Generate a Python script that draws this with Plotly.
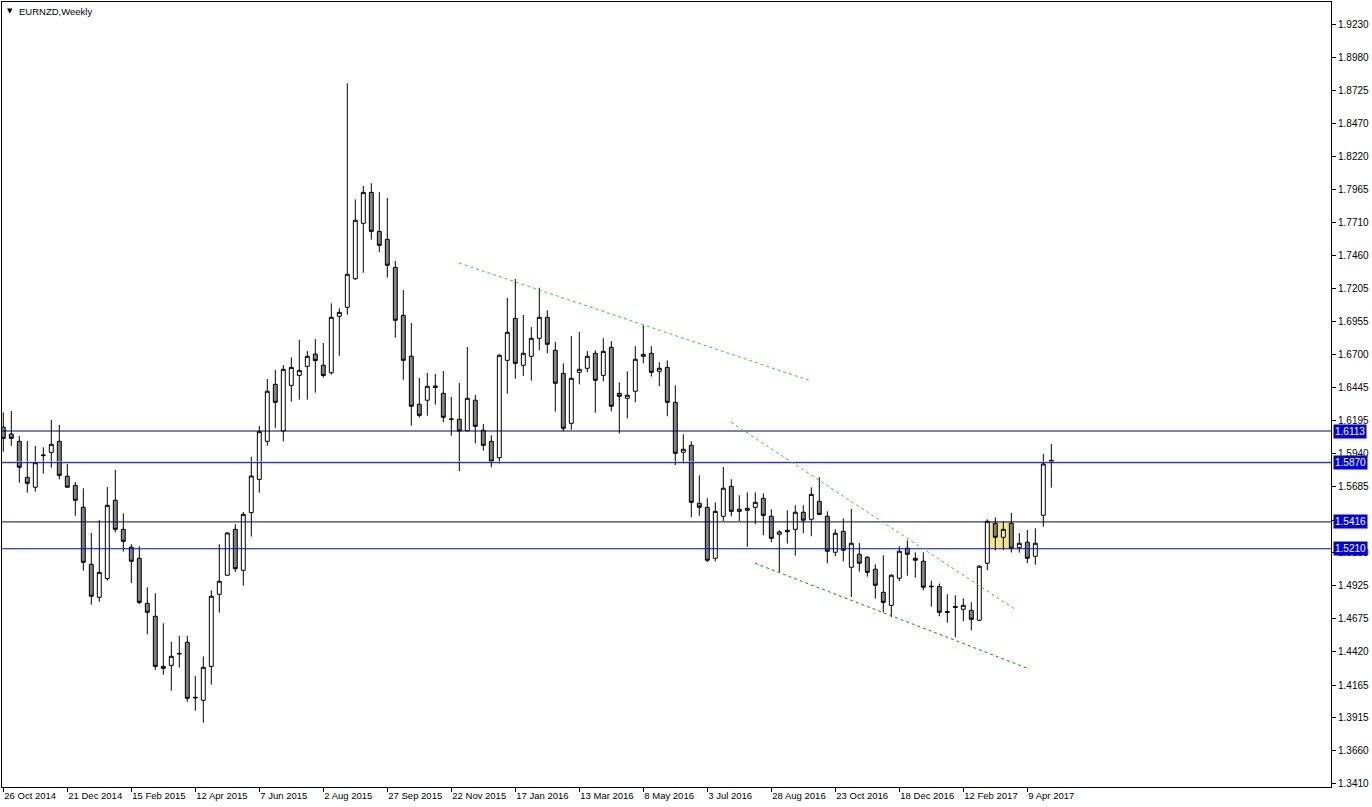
import plotly.graph_objects as go

# ---- weekly OHLC data (EURNZD) ----
opens = [1.6142, 1.6090, 1.6034, 1.5758, 1.5682, 1.5924, 1.5949, 1.6034, 1.5766, 1.5696,
         1.5528, 1.5091, 1.4838, 1.4981, 1.5582, 1.5359, 1.5222, 1.5137, 1.4792, 1.4692,
         1.4308, 1.4316, 1.4403, 1.4493, 1.4066, 1.4048, 1.4308, 1.4861, 1.5007, 1.5359,
         1.5045, 1.5487, 1.5742, 1.6034, 1.6471, 1.6113, 1.6463, 1.6540, 1.6609, 1.6703,
         1.6617, 1.6560, 1.6993, 1.7062, 1.7281, 1.7706, 1.7943, 1.7644, 1.7583, 1.7368,
         1.7000, 1.6686, 1.6318, 1.6349, 1.6458, 1.6402, 1.6201, 1.6203, 1.6115, 1.6349,
         1.6119, 1.6034, 1.5908, 1.6655, 1.6977, 1.6617, 1.6686, 1.6824, 1.6985, 1.6732,
         1.6555, 1.6172, 1.6563, 1.6594, 1.6709, 1.6540, 1.6755, 1.6402, 1.6364, 1.6418,
         1.6686, 1.6709, 1.6571, 1.6601, 1.6333, 1.5950, 1.6003, 1.5559, 1.5528, 1.5137,
         1.5459, 1.5689, 1.5497, 1.5505, 1.5528, 1.5597, 1.5459, 1.5321, 1.5352, 1.5359,
         1.5490, 1.5436, 1.5574, 1.5459, 1.5183, 1.5344, 1.5068, 1.5168, 1.5145, 1.5053,
         1.4876, 1.4776, 1.4984, 1.5214, 1.5137, 1.5114, 1.4918, 1.4920, 1.4728, 1.4767,
         1.4746, 1.4738, 1.4662, 1.5099, 1.5405, 1.5298, 1.5405, 1.5218, 1.5260, 1.5152,
         1.5467, 1.5888]
highs = [1.6256, 1.6266, 1.6075, 1.6036, 1.5998, 1.5988, 1.6197, 1.6159, 1.5860, 1.5722,
         1.5674, 1.5331, 1.5429, 1.5684, 1.5814, 1.5482, 1.5245, 1.5229, 1.4915, 1.4869,
         1.4639, 1.4496, 1.4541, 1.4541, 1.4235, 1.4385, 1.4892, 1.5245, 1.5336, 1.5398,
         1.5492, 1.5916, 1.6152, 1.6512, 1.6581, 1.6619, 1.6678, 1.6811, 1.6727, 1.6818,
         1.6788, 1.7092, 1.7054, 1.8780, 1.7889, 1.7992, 1.8013, 1.7945, 1.7900, 1.7417,
         1.7194, 1.6941, 1.6520, 1.6558, 1.6550, 1.6573, 1.6374, 1.6481, 1.6757, 1.6389,
         1.6167, 1.6080, 1.6703, 1.7133, 1.7279, 1.7003, 1.6911, 1.7212, 1.7039, 1.6796,
         1.6632, 1.6842, 1.6872, 1.6727, 1.6732, 1.6824, 1.6803, 1.6487, 1.6571, 1.6763,
         1.6924, 1.6763, 1.6640, 1.6655, 1.6463, 1.6088, 1.6034, 1.5773, 1.5597, 1.5566,
         1.5837, 1.5743, 1.5620, 1.5643, 1.5643, 1.5635, 1.5513, 1.5352, 1.5505, 1.5543,
         1.5543, 1.5681, 1.5760, 1.5497, 1.5359, 1.5443, 1.5515, 1.5254, 1.5155, 1.5091,
         1.5160, 1.5014, 1.5229, 1.5275, 1.5183, 1.5183, 1.4966, 1.4943, 1.4861, 1.4853,
         1.4830, 1.4800, 1.5083, 1.5436, 1.5451, 1.5419, 1.5484, 1.5331, 1.5354, 1.5367,
         1.5937, 1.6013]
lows = [1.5954, 1.6000, 1.5716, 1.5640, 1.5648, 1.5786, 1.5832, 1.5742, 1.5680, 1.5463,
        1.5042, 1.4781, 1.4804, 1.4966, 1.5336, 1.5188, 1.4946, 1.4784, 1.4554, 1.4282,
        1.4244, 1.4122, 1.4299, 1.4037, 1.3968, 1.3876, 1.4168, 1.4720, 1.5003, 1.5032,
        1.4927, 1.5303, 1.5640, 1.6000, 1.6138, 1.6034, 1.6338, 1.6353, 1.6353, 1.6407,
        1.6522, 1.6545, 1.6690, 1.7005, 1.7271, 1.7327, 1.7580, 1.7486, 1.7289, 1.6828,
        1.6506, 1.6154, 1.6215, 1.6230, 1.6315, 1.6180, 1.6077, 1.5806, 1.6111, 1.6019,
        1.5962, 1.5835, 1.5865, 1.6399, 1.6514, 1.6535, 1.6499, 1.6732, 1.6709, 1.6261,
        1.6111, 1.6123, 1.6471, 1.6563, 1.6253, 1.6494, 1.6264, 1.6095, 1.6210, 1.6333,
        1.6632, 1.6530, 1.6456, 1.6226, 1.5852, 1.5865, 1.5451, 1.5463, 1.5106, 1.5114,
        1.5421, 1.5459, 1.5421, 1.5226, 1.5398, 1.5313, 1.5260, 1.5032, 1.5249, 1.5157,
        1.5329, 1.5306, 1.5467, 1.5099, 1.5152, 1.5114, 1.4840, 1.5034, 1.4996, 1.4827,
        1.4723, 1.4685, 1.4961, 1.5003, 1.4988, 1.4892, 1.4766, 1.4692, 1.4643, 1.4531,
        1.4654, 1.4585, 1.4654, 1.5045, 1.5197, 1.5201, 1.5181, 1.5180, 1.5099, 1.5088,
        1.5379, 1.5678]
closes = [1.6057, 1.6057, 1.5835, 1.5712, 1.5870, 1.5928, 1.6011, 1.5773, 1.5682, 1.5582,
          1.5106, 1.4846, 1.5029, 1.5543, 1.5359, 1.5267, 1.5114, 1.4799, 1.4723, 1.4308,
          1.4293, 1.4385, 1.4407, 1.4063, 1.4070, 1.4301, 1.4846, 1.4961, 1.5331, 1.5057,
          1.5474, 1.5768, 1.6108, 1.6418, 1.6333, 1.6586, 1.6601, 1.6578, 1.6686, 1.6653,
          1.6539, 1.6985, 1.7023, 1.7315, 1.7729, 1.7943, 1.7644, 1.7537, 1.7384, 1.6962,
          1.6655, 1.6303, 1.6233, 1.6456, 1.6448, 1.6218, 1.6205, 1.6113, 1.6364, 1.6149,
          1.6003, 1.5881, 1.6694, 1.6870, 1.6632, 1.6709, 1.6824, 1.6985, 1.6778, 1.6479,
          1.6134, 1.6517, 1.6586, 1.6686, 1.6502, 1.6724, 1.6303, 1.6379, 1.6387, 1.6663,
          1.6701, 1.6563, 1.6594, 1.6333, 1.5942, 1.5973, 1.5566, 1.5528, 1.5122, 1.5497,
          1.5674, 1.5497, 1.5513, 1.5520, 1.5566, 1.5466, 1.5290, 1.5339, 1.5341, 1.5490,
          1.5429, 1.5627, 1.5474, 1.5191, 1.5329, 1.5199, 1.5252, 1.5099, 1.5029, 1.4930,
          1.4799, 1.5007, 1.5191, 1.5168, 1.5122, 1.4915, 1.4922, 1.4723, 1.4722, 1.4761,
          1.4776, 1.4669, 1.5076, 1.5421, 1.5298, 1.5359, 1.5214, 1.5252, 1.5137, 1.5252,
          1.5860, 1.5876]
bar_index = list(range(len(opens)))

# ---- axis labels ----
date_tick_index = [0, 8, 16, 24, 32, 40, 48, 56, 64, 72, 80, 88, 96, 104, 112, 120, 128]
date_tick_labels = ["26 Oct 2014", "21 Dec 2014", "15 Feb 2015", "12 Apr 2015", "7 Jun 2015",
                    "2 Aug 2015", "27 Sep 2015", "22 Nov 2015", "17 Jan 2016", "13 Mar 2016",
                    "8 May 2016", "3 Jul 2016", "28 Aug 2016", "23 Oct 2016", "18 Dec 2016",
                    "12 Feb 2017", "9 Apr 2017"]
price_ticks = [1.9230, 1.8980, 1.8725, 1.8470, 1.8220, 1.7965, 1.7710, 1.7460, 1.7205, 1.6955,
               1.6700, 1.6445, 1.6195, 1.5940, 1.5685, 1.5430, 1.5180, 1.4925, 1.4675, 1.4420,
               1.4165, 1.3915, 1.3660, 1.3410]
# labels hidden behind the 1.5416 price box in the reference
hidden_price_labels = [1.5430]

# ---- drawn objects ----
h_levels = [1.6113, 1.5870, 1.5416, 1.5210]
h_level_colors = ["#00006E", "#0000FF", "#00006E", "#0000FF"]
bid_price = 1.5876
trend_x0 = [56.96, 90.96, 93.96]
trend_y0 = [1.7401, 1.6180, 1.5099]
trend_x1 = [100.84, 126.46, 128.09]
trend_y1 = [1.6499, 1.4746, 1.4292]
trend_colors = ["#32CD32", "#32CD32", "#009900"]
box_x = [123.25, 126.25]
box_y = [1.5210, 1.5416]

fig = go.Figure()
fig.add_trace(go.Candlestick(
    x=bar_index, open=opens, high=highs, low=lows, close=closes,
    increasing=dict(line=dict(color="black", width=1), fillcolor="white"),
    decreasing=dict(line=dict(color="black", width=1), fillcolor="#808080"),
    whiskerwidth=0, hoverinfo="skip", showlegend=False,
))

shapes = []
shapes.append(dict(type="rect", xref="x", yref="y", x0=box_x[0], x1=box_x[1],
                   y0=box_y[0], y1=box_y[1], fillcolor="#F0E68C", line=dict(width=0),
                   layer="below"))
shapes.append(dict(type="line", xref="paper", yref="y", x0=0, x1=1, y0=bid_price, y1=bid_price,
                   line=dict(color="#C0C0C0", width=1), layer="above"))
for lv, col in zip(h_levels, h_level_colors):
    shapes.append(dict(type="line", xref="paper", yref="y", x0=0, x1=1, y0=lv, y1=lv,
                       line=dict(color=col, width=1), layer="above"))
for xa, ya, xb, yb, col in zip(trend_x0, trend_y0, trend_x1, trend_y1, trend_colors):
    shapes.append(dict(type="line", xref="x", yref="y", x0=xa, y0=ya, x1=xb, y1=yb,
                       line=dict(color=col, width=1, dash="3px,3px"), layer="above"))

annotations = []
for lv in h_levels:
    annotations.append(dict(xref="paper", yref="y", x=1, y=lv, xanchor="left", yanchor="middle",
                            xshift=2, text="%.4f" % lv, showarrow=False,
                            bgcolor="#0000E6", borderpad=1,
                            font=dict(family="Liberation Sans", size=10, color="white")))
annotations.append(dict(xref="paper", yref="paper", x=0, y=1, xanchor="left", yanchor="top",
                        xshift=3, yshift=-3, text="\u25BC", showarrow=False,
                        font=dict(family="DejaVu Sans", size=7, color="black")))
annotations.append(dict(xref="paper", yref="paper", x=0, y=1, xanchor="left", yanchor="top",
                        xshift=15, yshift=-2, text="EURNZD,Weekly", showarrow=False,
                        font=dict(family="Liberation Sans", size=9.5, color="black")))

fig.update_layout(
    width=1372, height=807, autosize=False,
    margin=dict(l=2, r=41, t=2, b=20, pad=0),
    paper_bgcolor="white", plot_bgcolor="white",
    shapes=shapes, annotations=annotations,
    boxgap=0.3, showlegend=False,
    xaxis=dict(range=[-0.1625, 165.96], showgrid=False, zeroline=False, automargin=False,
               rangeslider=dict(visible=False),
               showline=True, linecolor="black", linewidth=1, mirror=True,
               tickmode="array", tickvals=date_tick_index, ticktext=date_tick_labels,
               ticks="outside", ticklen=4, tickcolor="black", tickangle=0,
               ticklabelposition="outside right",
               tickfont=dict(family="Liberation Sans", size=9.5, color="black")),
    yaxis=dict(range=[1.3383, 1.9403], side="right", showgrid=False, zeroline=False,
               automargin=False,
               showline=True, linecolor="black", linewidth=1, mirror=True,
               tickmode="array", tickvals=price_ticks,
               ticktext=["" if v in hidden_price_labels else "%.4f" % v for v in price_ticks],
               ticks="outside", ticklen=4, tickcolor="black",
               tickfont=dict(family="Liberation Sans", size=10, color="black")),
)

fig.write_html("out.html")
